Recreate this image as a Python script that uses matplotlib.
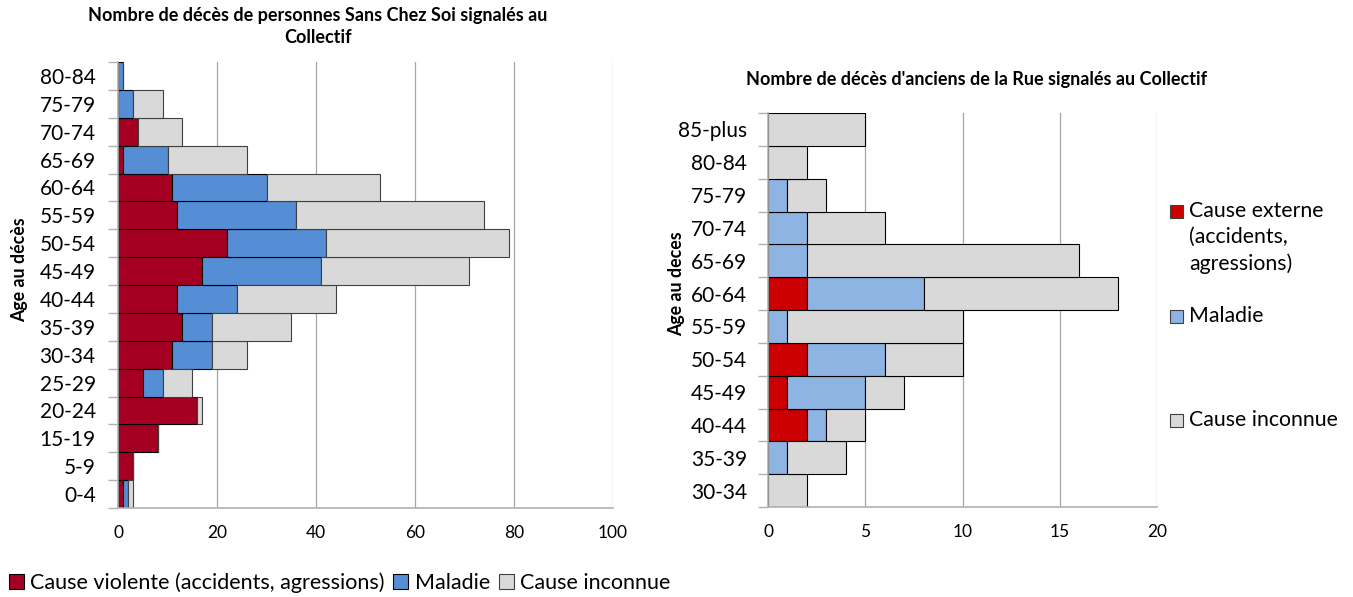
import numpy as np
from matplotlib import pyplot as plt
from matplotlib.patches import Rectangle

plt.rcParams['font.family'] = ['Lato', 'DejaVu Sans']

# Sans Chez Soi deaths by age group (left chart)
ages_left = ['0-4', '5-9', '15-19', '20-24', '25-29', '30-34', '35-39', '40-44',
             '45-49', '50-54', '55-59', '60-64', '65-69', '70-74', '75-79', '80-84']
violente = [1, 3, 8, 16, 5, 11, 13, 12, 17, 22, 12, 11, 1, 4, 0, 0]
maladie_left = [1, 0, 0, 0, 4, 8, 6, 12, 24, 20, 24, 19, 9, 0, 3, 1]
inconnue_left = [1, 0, 0, 1, 6, 7, 16, 20, 30, 37, 38, 23, 16, 9, 6, 0]

# anciens de la Rue deaths by age group (right chart)
ages_right = ['30-34', '35-39', '40-44', '45-49', '50-54', '55-59', '60-64',
              '65-69', '70-74', '75-79', '80-84', '85-plus']
externe = [0, 0, 2, 1, 2, 0, 2, 0, 0, 0, 0, 0]
maladie_right = [0, 1, 1, 4, 4, 1, 6, 2, 2, 1, 0, 0]
inconnue_right = [2, 3, 2, 2, 4, 9, 10, 14, 4, 2, 2, 5]

W, H = 1353, 597
fig = plt.figure(figsize=(W / 100, H / 100), dpi=100)

GRID = '#A6A6A6'
AXIS = '#B0B0B0'


def style_axes(ax, n, xmax, step, pad):
    ax.set_xlim(0, xmax)
    ax.set_ylim(-0.5, n - 0.5)
    ax.set_xticks(np.arange(0, xmax + 1, step))
    ax.set_yticks(np.arange(n))
    ax.set_yticks(np.arange(-0.5, n, 1), minor=True)
    ax.tick_params(axis='y', which='major', length=0, labelsize=15, pad=pad)
    ax.tick_params(axis='y', which='minor', length=7, color=AXIS, width=1)
    ax.tick_params(axis='x', length=0, labelsize=12.5, pad=12)
    ax.grid(axis='x', color=GRID, linewidth=0.9)
    ax.set_axisbelow(True)
    for s in ['top', 'right']:
        ax.spines[s].set_visible(False)
    for s in ['left', 'bottom']:
        ax.spines[s].set_color(AXIS)
        ax.spines[s].set_linewidth(1.2)


# left chart
ax1 = fig.add_axes([118 / W, 1 - 508 / H, 495 / W, 446 / H])
y1 = np.arange(len(ages_left))
v = np.array(violente)
m = np.array(maladie_left)
i = np.array(inconnue_left)
b1 = ax1.barh(y1, v, height=1.0, color='#A50021', edgecolor='black', linewidth=0.8,
              label='Cause violente (accidents, agressions)')
b2 = ax1.barh(y1, m, left=v, height=1.0, color='#558ED5', edgecolor='black', linewidth=0.8,
              label='Maladie')
b3 = ax1.barh(y1, i, left=v + m, height=1.0, color='#D9D9D9', edgecolor='#404040', linewidth=0.8,
              label='Cause inconnue')
style_axes(ax1, len(ages_left), 100, 20, 16)
ax1.set_yticklabels(ages_left)
fig.text(318 / W, 1 - 7 / H, 'Nombre de décès de personnes Sans Chez Soi signalés au\nCollectif',
         fontsize=13, fontweight='bold', ha='center', va='top', linespacing=1.35)
fig.text(20 / W, 1 - 270 / H, 'Age au décès', rotation=90, fontsize=12.8,
         fontweight='bold', ha='center', va='center')

fig.legend(handles=[b1, b2, b3], loc='center left', bbox_to_anchor=(0, 1 - 583 / H),
           ncol=3, frameon=False, fontsize=15.5, handlelength=0.7, handleheight=0.7,
           handletextpad=0.3, columnspacing=0.4, borderaxespad=0.2, borderpad=0.2)

# right chart
ax2 = fig.add_axes([768 / W, 1 - 507 / H, 389 / W, 394 / H])
y2 = np.arange(len(ages_right))
e = np.array(externe)
m2 = np.array(maladie_right)
i2 = np.array(inconnue_right)
ax2.barh(y2, e, height=1.0, color='#CC0000', edgecolor='black', linewidth=0.8)
ax2.barh(y2, m2, left=e, height=1.0, color='#8DB4E2', edgecolor='black', linewidth=0.8)
ax2.barh(y2, i2, left=e + m2, height=1.0, color='#D9D9D9', edgecolor='black', linewidth=0.8)
style_axes(ax2, len(ages_right), 20, 5, 15)
ax2.set_yticklabels(ages_right)
fig.text(977 / W, 1 - 80 / H, "Nombre de décès d'anciens de la Rue signalés au Collectif",
         fontsize=13, fontweight='bold', ha='center', va='center')
fig.text(677 / W, 1 - 284 / H, 'Age au deces', rotation=90, fontsize=12.8,
         fontweight='bold', ha='center', va='center')

# right legend, stacked down the side
legend_items = [('Cause externe\n(accidents,\nagressions)', '#CC0000', 211),
                ('Maladie', '#8DB4E2', 316),
                ('Cause inconnue', '#D9D9D9', 420)]
for label, color, ypix in legend_items:
    fig.add_artist(Rectangle((1170 / W, 1 - (ypix + 7) / H), 13 / W, 13 / H,
                             transform=fig.transFigure, facecolor=color,
                             edgecolor='#404040', linewidth=0.8))
    fig.text(1189 / W, 1 - (ypix - 10) / H, label, fontsize=15.3, va='top',
             ha='left', linespacing=1.38)

plt.savefig('out.png', dpi=100)
